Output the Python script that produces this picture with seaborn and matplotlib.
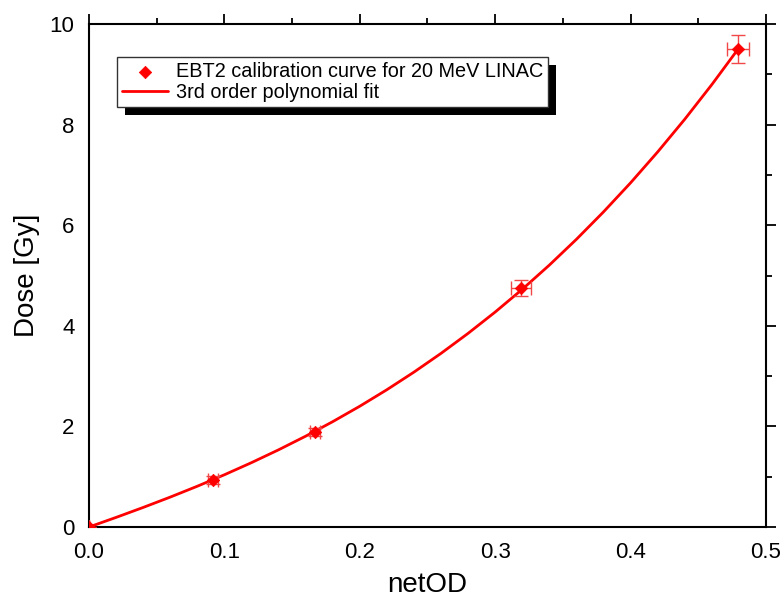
"""
EBT2 film calibration curve (20 MeV LINAC)
"""
import matplotlib
matplotlib.use('Agg')
import matplotlib.pyplot as plt
from matplotlib.patches import Rectangle
from matplotlib.ticker import MultipleLocator, FormatStrFormatter
import seaborn as sns
import pandas as pd

# measured calibration points
netod = [0.0, 0.0918, 0.167, 0.319, 0.4795]
dose = [0.0, 0.94, 1.89, 4.75, 9.50]
netod_err = [0.0, 0.0037, 0.0037, 0.0074, 0.0083]
dose_err = [0.0, 0.08, 0.08, 0.16, 0.28]

# 3rd order polynomial fit
fit_x = [0.0, 0.02, 0.04, 0.06, 0.08, 0.10, 0.12, 0.14, 0.16, 0.18, 0.20,
         0.22, 0.24, 0.26, 0.28, 0.30, 0.32, 0.34, 0.36, 0.38, 0.40,
         0.42, 0.44, 0.46, 0.48]
fit_y = [0.0, 0.191, 0.389, 0.595, 0.811, 1.039, 1.280, 1.535, 1.806,
         2.095, 2.402, 2.730, 3.080, 3.453, 3.851, 4.275, 4.727, 5.208,
         5.721, 6.266, 6.844, 7.458, 8.108, 8.797, 9.525]

sns.set_style('white', {'text.color': 'black', 'axes.labelcolor': 'black',
                        'xtick.color': 'black', 'ytick.color': 'black'})
plt.rcParams['font.family'] = ['Liberation Sans', 'DejaVu Sans']

fig = plt.figure(figsize=(7.82, 6.03), dpi=100)
ax = fig.add_axes([0.1138, 0.126, 0.8657, 0.834])

fit_df = pd.DataFrame({'netOD': fit_x, 'Dose': fit_y})
sns.lineplot(data=fit_df, x='netOD', y='Dose', color='#ff0000', lw=2,
             ax=ax, label='3rd order polynomial fit', zorder=2)

ax.errorbar(netod, dose, xerr=netod_err, yerr=dose_err, fmt='none',
            ecolor='#f04848', elinewidth=1, capsize=5, capthick=1, zorder=3)
pts_df = pd.DataFrame({'netOD': netod, 'Dose': dose})
sns.scatterplot(data=pts_df, x='netOD', y='Dose', marker='D', s=40,
                color='#ff0000', edgecolor='#ff0000', ax=ax, zorder=4,
                label='EBT2 calibration curve for 20 MeV LINAC')

ax.set_xlim(0, 0.5)
ax.set_ylim(0, 10)
ax.xaxis.set_major_locator(MultipleLocator(0.1))
ax.xaxis.set_minor_locator(MultipleLocator(0.05))
ax.xaxis.set_major_formatter(FormatStrFormatter('%.1f'))
ax.yaxis.set_major_locator(MultipleLocator(2))
ax.yaxis.set_minor_locator(MultipleLocator(1))
ax.tick_params(which='both', direction='out', top=True, right=True,
               labeltop=False, labelright=False, width=1.3, color='black',
               labelcolor='black')
ax.tick_params(which='major', length=7, labelsize=16)
ax.tick_params(which='minor', length=4)
for s in ax.spines.values():
    s.set_linewidth(1.5)
    s.set_color('black')

ax.set_xlabel('netOD', fontsize=20, labelpad=7, color='black')
ax.set_ylabel('Dose [Gy]', fontsize=20, labelpad=7, color='black')

handles, labels = ax.get_legend_handles_labels()
order = [1, 0]
leg = ax.legend([handles[i] for i in order], [labels[i] for i in order],
                loc='upper left', bbox_to_anchor=(0.042, 0.935),
                fontsize=14.3, frameon=True, fancybox=False, edgecolor='#333333',
                framealpha=1, borderpad=0.25, handlelength=2.3,
                handletextpad=0.4, labelspacing=0.1, borderaxespad=0,
                labelcolor='black')
leg.get_frame().set_linewidth(1.0)
leg.set_zorder(6)

# black drop shadow behind the legend box
fig.canvas.draw()
bb = leg.get_window_extent()
shadow = Rectangle((bb.x0 + 8, bb.y0 - 8), bb.width, bb.height,
                   transform=None, facecolor='black', edgecolor='none',
                   zorder=5)
ax.add_artist(shadow)

fig.savefig('out.png', dpi=100)
